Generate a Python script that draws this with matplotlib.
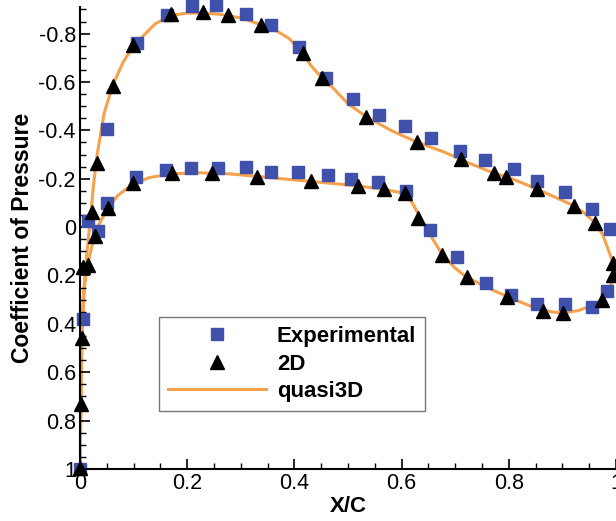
import matplotlib
matplotlib.use('Agg')
import matplotlib.pyplot as plt
from matplotlib.ticker import MultipleLocator, FormatStrFormatter

plt.rcParams['font.family'] = ['Liberation Sans', 'DejaVu Sans']
plt.rcParams['axes.unicode_minus'] = False

# Experimental data (squares)
exp_x = [0.0, 0.005, 0.015, 0.034, 0.05, 0.05, 0.106, 0.162, 0.209, 0.254, 0.31,
         0.356, 0.408, 0.459, 0.509, 0.558, 0.606, 0.654, 0.709, 0.756, 0.81,
         0.852, 0.905, 0.955, 0.989,
         0.104, 0.16, 0.207, 0.257, 0.31, 0.356, 0.407, 0.463, 0.506, 0.556,
         0.608, 0.653, 0.703, 0.757, 0.804, 0.852, 0.905, 0.955, 0.983]
exp_cp = [1.0, 0.38, -0.025, 0.017, -0.10, -0.405, -0.76, -0.876, -0.913, -0.917, -0.88,
          -0.835, -0.744, -0.616, -0.529, -0.463, -0.417, -0.368, -0.314, -0.277, -0.24,
          -0.19, -0.145, -0.074, 0.008,
          -0.207, -0.235, -0.244, -0.244, -0.248, -0.227, -0.227, -0.215, -0.198, -0.186,
          -0.149, 0.012, 0.124, 0.231, 0.281, 0.318, 0.318, 0.33, 0.264]

# 2D computation (triangles)
tri_x = [0.0, 0.002, 0.003, 0.006, 0.015, 0.022, 0.028, 0.032, 0.052, 0.061, 0.099,
         0.099, 0.17, 0.23, 0.276, 0.338, 0.416, 0.451, 0.534, 0.628, 0.71, 0.772,
         0.795, 0.852, 0.922, 0.961, 0.995, 0.995,
         0.172, 0.246, 0.33, 0.431, 0.519, 0.567, 0.606, 0.63, 0.676, 0.722, 0.797,
         0.864, 0.901, 0.974]
tri_cp = [0.996, 0.731, 0.459, 0.165, 0.157, -0.062, 0.037, -0.264, -0.079, -0.583, -0.752,
          -0.182, -0.88, -0.888, -0.876, -0.835, -0.719, -0.616, -0.455, -0.351, -0.281, -0.223,
          -0.207, -0.157, -0.087, -0.017, 0.149, 0.198,
          -0.223, -0.223, -0.207, -0.19, -0.169, -0.157, -0.14, -0.037, 0.116, 0.207, 0.289,
          0.347, 0.355, 0.30]

# quasi3D (line), suction side then pressure side
q3d_x = [1.0, 0.995, 0.975, 0.96, 0.94, 0.92, 0.88, 0.85, 0.80, 0.77, 0.72, 0.68, 0.63,
         0.58, 0.535, 0.50, 0.47, 0.45, 0.43, 0.415, 0.39, 0.36, 0.34, 0.30, 0.26, 0.23,
         0.20, 0.17, 0.14, 0.10, 0.08, 0.06, 0.045, 0.032, 0.025, 0.02, 0.015, 0.01,
         0.006, 0.003, 0.002, 0.0,
         0.002, 0.004, 0.008, 0.015, 0.022, 0.028, 0.035, 0.05, 0.07, 0.10, 0.13, 0.17,
         0.22, 0.28, 0.33, 0.40, 0.45, 0.52, 0.57, 0.605, 0.62, 0.635, 0.65, 0.675, 0.70,
         0.72, 0.76, 0.80, 0.85, 0.88, 0.90, 0.93, 0.96, 0.975, 0.99, 1.0]
q3d_cp = [0.17, 0.15, 0.03, -0.02, -0.06, -0.09, -0.13, -0.16, -0.205, -0.225, -0.27, -0.31,
          -0.35, -0.40, -0.455, -0.51, -0.58, -0.62, -0.67, -0.72, -0.78, -0.82, -0.835,
          -0.865, -0.88, -0.885, -0.885, -0.875, -0.84, -0.75, -0.68, -0.58, -0.47, -0.30,
          -0.17, -0.05, 0.06, 0.17, 0.30, 0.45, 0.70, 1.0,
          0.70, 0.45, 0.25, 0.15, 0.08, 0.04, -0.01, -0.07, -0.13, -0.18, -0.205, -0.22,
          -0.225, -0.22, -0.21, -0.195, -0.185, -0.17, -0.155, -0.14, -0.10, -0.04, 0.02,
          0.11, 0.17, 0.205, 0.25, 0.29, 0.335, 0.35, 0.355, 0.345, 0.32, 0.30, 0.24, 0.19]

fig = plt.figure(figsize=(6.16, 5.21), dpi=100)
ax = fig.add_axes([80 / 616, 52 / 521, 536 / 616, 462 / 521])

ax.plot(q3d_x, q3d_cp, color='#F5A24C', lw=2.2, label='quasi3D', zorder=1)
ax.plot(exp_x, exp_cp, 's', color='#3F51AA', ms=8.5, mec='#3F51AA', label='Experimental',
        zorder=2, clip_on=False)
ax.plot(tri_x, tri_cp, '^', color='black', ms=10.5, label='2D', zorder=3, clip_on=False)

ax.set_xlim(0, 1.0)
ax.set_ylim(1.0, -0.91)

ax.xaxis.set_major_locator(MultipleLocator(0.2))
ax.xaxis.set_minor_locator(MultipleLocator(0.05))
ax.yaxis.set_major_locator(MultipleLocator(0.2))
ax.yaxis.set_minor_locator(MultipleLocator(0.05))
ax.xaxis.set_major_formatter(FormatStrFormatter('%g'))
ax.yaxis.set_major_formatter(FormatStrFormatter('%g'))

ax.spines['top'].set_visible(False)
ax.spines['right'].set_visible(False)
ax.spines['left'].set_linewidth(1.5)
ax.spines['bottom'].set_linewidth(1.5)
ax.tick_params(which='major', direction='in', length=7, width=1.2, labelsize=15.5, pad=3)
ax.tick_params(which='minor', direction='in', length=4, width=1.0)

ax.set_xlabel('X/C', fontsize=16, fontweight='bold', labelpad=1)
ax.set_ylabel('Coefficient of Pressure', fontsize=16.5, fontweight='bold', labelpad=3)

handles, labels = ax.get_legend_handles_labels()
order = [1, 2, 0]
leg = fig.legend([handles[i] for i in order], [labels[i] for i in order],
                 loc='upper left', bbox_to_anchor=(159 / 616, 1 - 317 / 521),
                 prop={'weight': 'bold', 'size': 16}, frameon=True, fancybox=False,
                 edgecolor='#555555', handlelength=4.4, handletextpad=0.5,
                 labelspacing=0.3, borderpad=0.4, borderaxespad=0)
leg.get_frame().set_linewidth(1.0)

fig.savefig('out.png', dpi=100)
